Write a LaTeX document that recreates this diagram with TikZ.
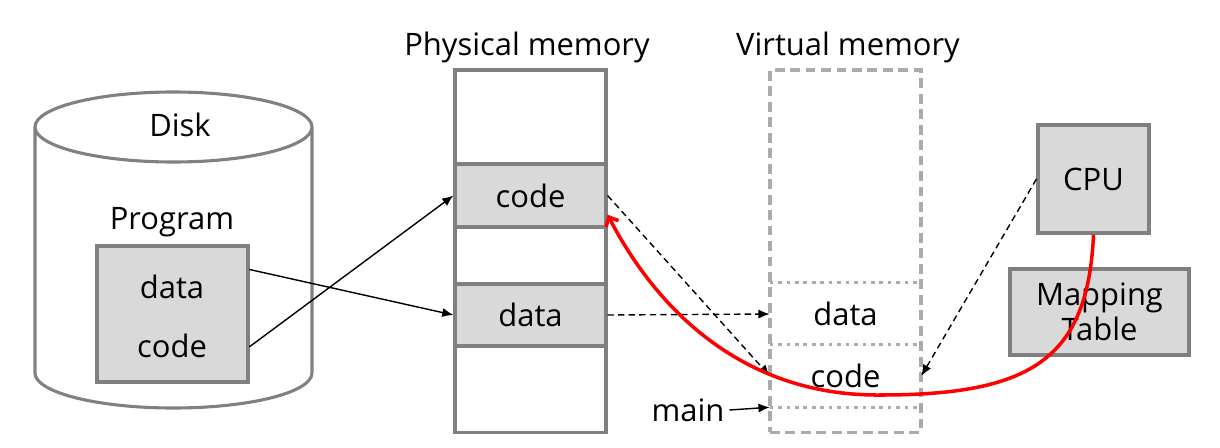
\documentclass[tikz,border=0pt]{standalone}
\usepackage{fontspec}
\setmainfont{Open Sans}
\usepackage{tikz}
\usetikzlibrary{arrows.meta}

\begin{document}
\begin{tikzpicture}[x=0.025cm,y=-0.025cm,
    every node/.style={font=\fontsize{22}{25}\selectfont},
    membox/.style={draw=gray,line width=2.2pt,minimum width=3.775cm},
    vmembox/.style={draw=black!33,line width=2.2pt,dash pattern=on 7pt off 4pt,minimum width=3.775cm},
    cellbox/.style={membox,fill=black!15,minimum height=1.56cm},
    vcell/.style={minimum width=3.775cm,minimum height=1.55cm},
    vline/.style={draw=black!33,line width=2.4pt,dash pattern=on 2.6pt off 3.4pt},
    maparrow/.style={-{Latex[length=8pt,width=6.5pt]},line width=1pt},
    dasharrow/.style={maparrow,dash pattern=on 4.5pt off 3pt},
    redarrow/.style={-{Straight Barb[length=5.5pt,width=10pt]},draw=red,line width=2.5pt}]
      \useasboundingbox (0,0) rectangle (1220,447);

      % disk
      \draw [draw=gray,line width=2.2pt,fill=white]
        (35,127) -- (35,373) arc [start angle=180,end angle=360,x radius=138.5,y radius=-35]
        -- (312,127) arc [start angle=0,end angle=360,x radius=138.5,y radius=-35];
      \node (disk) at (180,125) {Disk};
      \node (proglabel) at (172,222) {Program};
      \node [cellbox,minimum height=3.4cm] (prog) at (172.5,314) {};
      \node (pdat) at (172,287) {data};
      \node (pcod) at (172,346) {code};

      % physical memory
      \node (ptitle) at (527,47) {Physical memory};
      \node [membox,minimum height=9.05cm] (pmem) at (530.5,251) {};
      \node [cellbox,minimum height=1.575cm] (pcode) at (530.5,195.5) {code};
      \node [cellbox,minimum height=1.55cm] (pdata) at (530.5,315) {data};

      % virtual memory
      \node (vtitle) at (848,47) {Virtual memory};
      \node [vmembox,minimum height=9.05cm] (vmem) at (845.5,251) {};
      \node [vcell] (vdata) at (845.5,314) {data};
      \node [vcell] (vcode) at (845.5,376) {code};
      \draw [vline] (vdata.north west) -- (vdata.north east);
      \draw [vline] (vcode.north west) -- (vcode.north east);
      \draw [vline] (vcode.south west) -- (vcode.south east);
      \node (main) at (688,410) {main};

      % cpu
      \node [cellbox,minimum width=2.775cm,minimum height=2.7cm] (cpu) at (1093.5,179) {CPU};
      \node [cellbox,minimum width=4.475cm,minimum height=2.15cm,align=center] (maptab) at (1099.5,312) {Mapping\\Table};

      \draw [maparrow] (prog.30) -- (pdata.west);
      \draw [maparrow] (prog.-23) -- (pcode.west);
      \draw [dasharrow] (pcode.east) -- (vcode.west);
      \draw [dasharrow] (pdata.east) -- (vdata.west);
      \draw [dasharrow] (cpu.west) -- (vcode.east);
      \draw [maparrow] (main.east) -- (vcode.south west);
      \draw [redarrow] (cpu.south) .. controls (1088,360) and (1030,395) .. (880,395)
        .. controls (745,396) and (658,312) .. (pcode.-14);
    \end{tikzpicture}
\end{document}
